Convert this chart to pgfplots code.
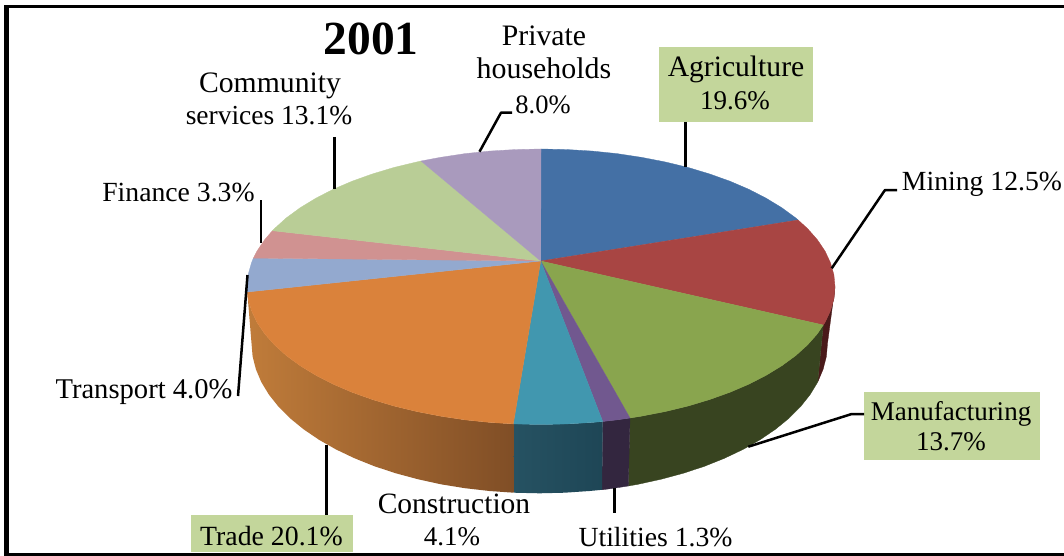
\documentclass[border=0pt]{standalone}
\usepackage{fontspec}
\setmainfont{Liberation Serif}
\usepackage{pgfplots}
\pgfplotsset{compat=1.18}
\definecolor{agri}{HTML}{4470A5}
\definecolor{mining}{HTML}{A84543}
\definecolor{manuf}{HTML}{89A54E}
\definecolor{util}{HTML}{71588F}
\definecolor{constr}{HTML}{4197AF}
\definecolor{trade}{HTML}{DA823B}
\definecolor{transp}{HTML}{93A9CF}
\definecolor{finance}{HTML}{D09291}
\definecolor{commu}{HTML}{B9CD96}
\definecolor{priv}{HTML}{A99ABD}
\definecolor{sidered}{HTML}{4A1A1A}
\definecolor{sidegreen}{HTML}{384420}
\definecolor{sideutil}{HTML}{33263F}
\definecolor{lab}{HTML}{C3D69B}
\definecolor{cl}{RGB}{38,82,98}
\definecolor{cr}{RGB}{30,70,86}
\definecolor{tl}{RGB}{192,124,58}
\definecolor{tr}{RGB}{128,78,38}
\tikzset{
  slice/.style={fill=#1,draw=#1,line width=0.3pt,line join=round,mark=none},
  lead/.style={draw=black,line width=2.5pt,mark=none,line join=round},
  t/.style={anchor=base,inner sep=0pt,font=\fontsize{#1}{32}\selectfont},
  t/.default=27,
}
\begin{document}
\begin{tikzpicture}
\begin{axis}[
  width=1064pt,height=556pt,scale only axis,
  xmin=0,xmax=1064,ymin=0,ymax=556,y dir=reverse,
  axis lines=none,clip=false,
  ticks=none,
]
% page
\addplot[fill=white,draw=none,mark=none] coordinates {(0,0)(1064,0)(1064,556)(0,556)} --cycle;
% frame
\addplot[draw=none,fill=black,mark=none] coordinates {(4,5)(1064,5)(1064,8.4)(4,8.4)} --cycle;
\addplot[draw=none,fill=black,mark=none] coordinates {(4,5)(8.5,5)(8.5,556)(4,556)} --cycle;
\addplot[draw=none,fill=black,mark=none] coordinates {(4,553)(1064,553)(1064,556)(4,556)} --cycle;
% side walls
\addplot[slice=sidered] coordinates {(835,286.75)(833.9,298.75)(830.5,310.65)(825,322.45)(823.3,325)(817.7,382.1)(823.1,369.3)(826.4,356.4)(827.5,343.3)} --cycle;
\addplot[slice=sidegreen] coordinates {(823.3,325)(817.3,333.85)(807.5,344.95)(795.6,355.65)(781.8,365.75)(766.2,375.25)(748.9,384.15)(730,392.25)(709.6,399.55)(688,406.05)(665.2,411.55)(641.5,416.15)(630,418)(628.3,486)(638,484.3)(661.2,479.2)(683.5,473.2)(704.7,466.2)(724.6,458.2)(743.1,449.4)(760.1,439.7)(775.4,429.3)(788.9,418.3)(800.5,406.7)(810.1,394.6)(817.7,382.1)} --cycle;
\addplot[slice=sideutil] coordinates {(630,418)(617.1,419.85)(602.7,421.5)(602,489.8)(614,488.2)(628.3,486)} --cycle;
\addplot[draw=none,mark=none,left color=cl,right color=cr] coordinates {(602.7,421.5)(592,422.45)(566.6,423.95)(541,424.5)(513.3,423.9)(513.7,492.7)(539.5,493.3)(564.6,492.7)(589.5,491)(602,489.8)} --cycle;
\addplot[draw=none,mark=none,left color=tl,right color=tr] coordinates {(513.3,423.9)(490,422.45)(464.9,419.85)(440.5,416.15)(416.8,411.55)(394,406.05)(372.4,399.55)(352,392.25)(333.1,384.15)(315.8,375.25)(300.2,365.75)(286.4,355.65)(274.5,344.95)(264.7,333.85)(257,322.45)(251.5,310.65)(248.1,298.75)(247.3,292)(251.5,343.3)(252.6,356.4)(255.9,369.3)(261.3,382.1)(268.9,394.6)(278.5,406.7)(290.1,418.3)(303.6,429.3)(318.9,439.7)(335.9,449.4)(354.4,458.2)(374.3,466.2)(395.5,473.2)(417.8,479.2)(441,484.3)(465,488.2)(489.5,491)(513.7,492.7)} --cycle;
% top slices
\addplot[slice=agri] coordinates {(540.7,261)(541,149)(566.6,149.55)(592,151.05)(617.1,153.65)(641.5,157.35)(665.2,161.95)(688,167.45)(709.6,173.95)(730,181.25)(748.9,189.35)(766.2,198.25)(781.8,207.75)(795.6,217.85)(798.1,220)} --cycle;
\addplot[slice=mining] coordinates {(540.7,261)(798.1,220)(807.5,228.55)(817.3,239.65)(825,251.05)(830.5,262.85)(833.9,274.75)(835,286.75)(833.9,298.75)(830.5,310.65)(825,322.45)(823.3,325)} --cycle;
\addplot[slice=manuf] coordinates {(540.7,261)(823.3,325)(817.3,333.85)(807.5,344.95)(795.6,355.65)(781.8,365.75)(766.2,375.25)(748.9,384.15)(730,392.25)(709.6,399.55)(688,406.05)(665.2,411.55)(641.5,416.15)(630,418)} --cycle;
\addplot[slice=util] coordinates {(540.7,261)(630,418)(617.1,419.85)(602.7,421.5)} --cycle;
\addplot[slice=constr] coordinates {(540.7,261)(602.7,421.5)(592,422.45)(566.6,423.95)(541,424.5)(513.3,423.9)} --cycle;
\addplot[slice=trade] coordinates {(540.7,261)(513.3,423.9)(490,422.45)(464.9,419.85)(440.5,416.15)(416.8,411.55)(394,406.05)(372.4,399.55)(352,392.25)(333.1,384.15)(315.8,375.25)(300.2,365.75)(286.4,355.65)(274.5,344.95)(264.7,333.85)(257,322.45)(251.5,310.65)(248.1,298.75)(247.3,292)} --cycle;
\addplot[slice=transp] coordinates {(540.7,261)(247.3,292)(247,286.75)(248.1,274.75)(251.5,262.85)(253.4,258.1)} --cycle;
\addplot[slice=finance] coordinates {(540.7,261)(253.4,258.1)(257,251.05)(264.7,239.65)(272.4,230.7)} --cycle;
\addplot[slice=commu] coordinates {(540.7,261)(272.4,230.7)(274.5,228.55)(286.4,217.85)(300.2,207.75)(315.8,198.25)(333.1,189.35)(352,181.25)(372.4,173.95)(394,167.45)(416.8,161.95)(421,161)} --cycle;
\addplot[slice=priv] coordinates {(540.7,261)(421,161)(440.5,157.35)(464.9,153.65)(490,151.05)(515.4,149.55)(541,149)} --cycle;
% label boxes
\addplot[draw=none,fill=lab,mark=none] coordinates {(659,47)(813,47)(813,122)(659,122)} --cycle;
\addplot[draw=none,fill=lab,mark=none] coordinates {(864,392)(1040,392)(1040,460)(864,460)} --cycle;
\addplot[draw=none,fill=lab,mark=none] coordinates {(191,515)(353,515)(353,552)(191,552)} --cycle;
% leader lines
\addplot[lead] coordinates {(685.3,122)(685.3,167)};
\addplot[lead] coordinates {(831.7,268.3)(885,190)(897,190)};
\addplot[lead] coordinates {(748.3,446.7)(851.7,414)(864,414)};
\addplot[lead] coordinates {(614.3,488)(614.3,513)};
\addplot[lead] coordinates {(326.7,445)(326.7,515)};
\addplot[lead] coordinates {(247.5,275)(238,396)};
\addplot[lead] coordinates {(261,200)(261,243)};
\addplot[lead] coordinates {(334.7,137)(334.7,189)};
\addplot[lead] coordinates {(479.5,151.7)(501,112.7)(512,112.7)};
% text
\node[anchor=base,inner sep=0pt,font=\fontsize{47.5}{50}\selectfont\bfseries] at (axis cs:371,55) {2001};
\node[t=29.7] at (axis cs:544,46) {Private};
\node[t=29.9] at (axis cs:544,79) {households};
\node[t=26.5] at (axis cs:543,114) {8.0\%};
\node[t=29.7] at (axis cs:270,93) {Community};
\node[t=27.5] at (axis cs:269,125) {services 13.1\%};
\node[t=27.7] at (axis cs:178.5,201) {Finance 3.3\%};
\node[t=29.6] at (axis cs:736,77) {Agriculture};
\node[t] at (axis cs:735,110) {19.6\%};
\node[t=27.7] at (axis cs:982,190) {Mining 12.5\%};
\node[t] at (axis cs:951,420) {Manufacturing};
\node[t] at (axis cs:951,450) {13.7\%};
\node[t=27.7] at (axis cs:655.5,546) {Utilities 1.3\%};
\node[t=29.5] at (axis cs:454,513) {Construction};
\node[t] at (axis cs:452,545) {4.1\%};
\node[t=27.8] at (axis cs:271.5,545) {Trade 20.1\%};
\node[t=28.6] at (axis cs:144,398) {Transport 4.0\%};
\end{axis}
\end{tikzpicture}
\end{document}
